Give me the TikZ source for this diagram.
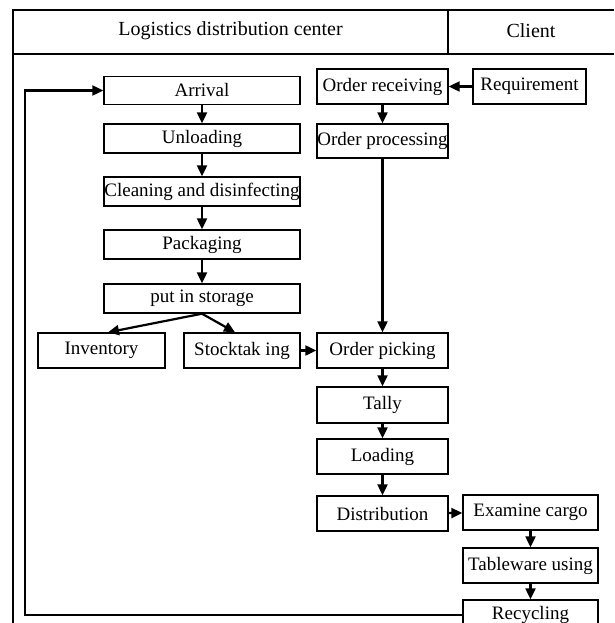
\documentclass[tikz,border=0pt]{standalone}
\usepackage{fontspec}
\setmainfont{Liberation Serif}
\usetikzlibrary{positioning}
\usetikzlibrary{arrows.meta}
\usetikzlibrary{calc}

\tikzset{
  box/.style={draw, line width=1.4pt, inner sep=0pt, minimum height=35pt},
  lbox/.style={box, minimum width=196pt},
  rbox/.style={box, minimum width=131pt},
  cbox/.style={box, minimum width=135pt},
  arr/.style={line width=2.2pt, -{Triangle[length=11pt,width=10pt]}}
}

\begin{document}
\begin{tikzpicture}[x=1pt, y=-1pt, font=\fontsize{19}{22}\selectfont]
\useasboundingbox (0,0) rectangle (614,623);
\clip (0,0) rectangle (614,623);

% frame and header
\draw[line width=1.5pt] (614,10) -- (13,10) -- (13,640);
\draw[line width=1.5pt] (13,54) -- (614,54);
\draw[line width=1.5pt] (448,10) -- (448,54);
\path (230.5,31) node[font=\fontsize{20}{23}\selectfont] (h1) {Logistics distribution center};
\path (531,31) node[font=\fontsize{20}{23}\selectfont] (h2) {Client};

% distribution center, storage side
\path (202,90.5) node[lbox, minimum height=28pt] (arv) {Arrival};
\path (202,138.5) node[lbox, minimum height=29pt] (unl) {Unloading};
\path (202,191.5) node[lbox, minimum height=29pt] (cln) {Cleaning and disinfecting};
\path (202,244.5) node[lbox, minimum height=29pt] (pkg) {Packaging};
\path (202,298.5) node[lbox, minimum height=29pt] (sto) {put in storage};
\path (101.5,350.5) node[box, minimum width=127pt] (inv) {Inventory};
\path (242,350.5) node[box, minimum width=116pt] (stk) {Stocktak ing};

% distribution center, order side
\path (382.5,86.5) node[rbox] (orc) {Order receiving};
\path (382.5,141) node[rbox, minimum height=34pt] (opr) {Order processing};
\path (382.5,350.5) node[rbox] (opk) {Order picking};
\path (382.5,405) node[rbox, minimum height=36pt] (tly) {Tally};
\path (382.5,456.5) node[rbox] (lod) {Loading};
\path (382.5,513.5) node[rbox] (dst) {Distribution};

% client
\path (529.5,86.5) node[box, minimum width=113pt] (req) {Requirement};
\path (530.5,512.5) node[cbox] (exc) {Examine cargo};
\path (530.5,565.5) node[cbox] (tbl) {Tableware using};
\path (530.5,615) node[cbox, minimum height=30pt] (rec) {Recycling};

\draw[arr] (arv) to (unl);
\draw[arr] (unl) to (cln);
\draw[arr] (cln) to (pkg);
\draw[arr] (pkg) to (sto);
\draw[arr] (sto.south) to ([xshift=6.5pt]inv.north);
\draw[arr] (sto.south) to ([xshift=-7pt]stk.north);
\draw[arr] (stk) to (opk);

\draw[arr] (req) to (orc);
\draw[arr] (orc) to (opr);
\draw[arr] (opr) to (opk);
\draw[arr] (opk) to (tly);
\draw[arr] (tly) to (lod);
\draw[arr] (lod) to (dst);
\draw[arr] (dst) to (exc);
\draw[arr] (exc) to (tbl);
\draw[arr] (tbl) to (rec);

\coordinate (lq) at (25,90.5);
\draw[arr] (rec.west) -| (lq) -- (arv.west);

\end{tikzpicture}
\end{document}
